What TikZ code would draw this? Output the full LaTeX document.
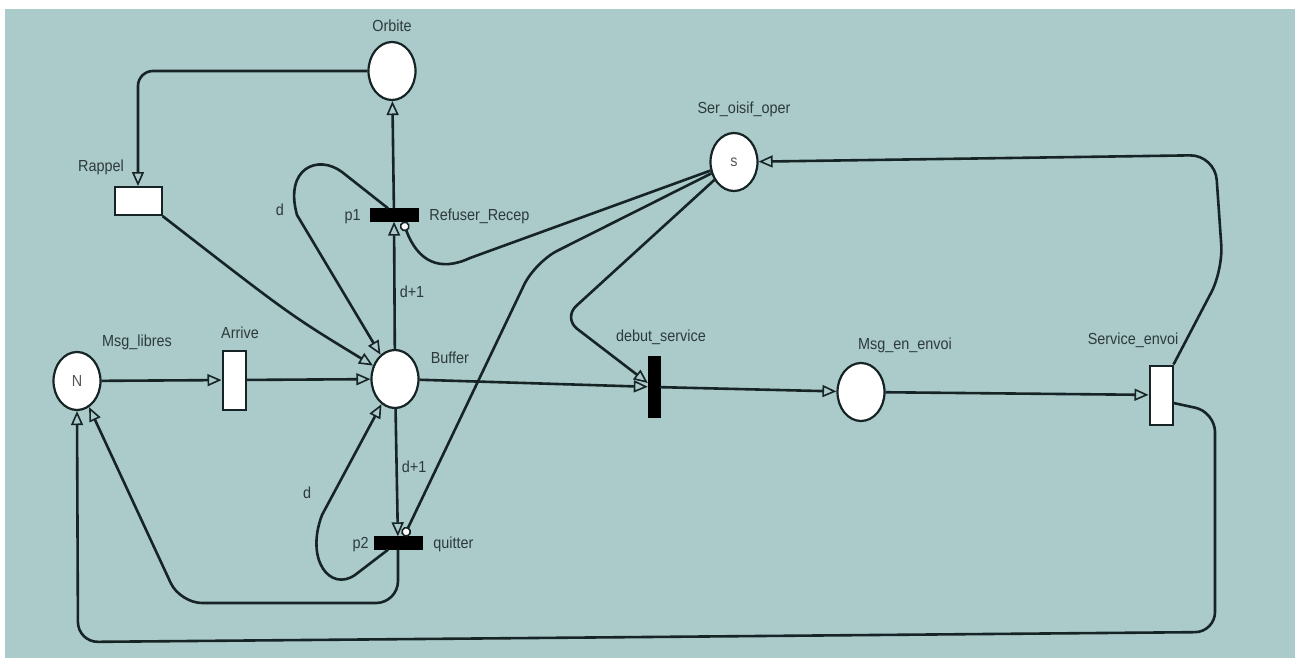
\documentclass[tikz,border=0pt]{standalone}
\usepackage{fontspec}
\setmainfont{Liberation Sans}[FakeStretch=0.9]
\usepackage{tikz}
\usetikzlibrary{shapes.geometric, arrows.meta, positioning, calc}
\definecolor{netBg}{RGB}{171, 202, 202}
\definecolor{netLine}{RGB}{22, 36, 38}
\definecolor{netText}{RGB}{45, 58, 60}
\definecolor{netMark}{RGB}{85, 85, 85}
\tikzset{
  place/.style={
    ellipse,
    draw=netLine, line width=2.2pt, fill=white,
    minimum width=47pt, minimum height=58pt,
    inner sep=0pt, font=\fontsize{16}{18}\selectfont, text=netMark
  },
  transh/.style={
    rectangle,
    draw=netLine, line width=2pt, fill=white,
    minimum width=47pt, minimum height=28pt, inner sep=0pt
  },
  transv/.style={
    rectangle,
    draw=netLine, line width=2pt, fill=white,
    minimum width=23pt, minimum height=59pt, inner sep=0pt
  },
  immh/.style={
    rectangle,
    draw=black, fill=black,
    minimum width=48pt, minimum height=13pt, inner sep=0pt
  },
  immv/.style={
    rectangle,
    draw=black, fill=black,
    minimum width=12pt, minimum height=61pt, inner sep=0pt
  },
  lbl/.style={
    font=\fontsize{16}{18}\selectfont, text=netText,
    inner sep=1pt, text height=11.5pt, text depth=0pt
  },
  arc/.style={
    line width=2.6pt, draw=netLine,
    -{Triangle[open, length=14pt, width=12pt, line width=1.6pt]}
  },
  inhib/.style={
    line width=2.6pt, draw=netLine,
    -{Circle[length=10pt, fill=white, line width=1.6pt]}
  }
}

\begin{document}
\begin{tikzpicture}[x=1pt, y=-1pt]

\useasboundingbox (0,0) rectangle (1295,658);
\fill[netBg] (5,9) rectangle (1295,658);

% --- Places ---
\node[place] (orbite) at (392,71) {};
\node[place] (msglibres) at (77,381) {N};
\node[place] (buffer) at (395,379) {};
\node[place] (seroisif) at (734,162) {s};
\node[place] (msgenvoi) at (861,392) {};

% --- Transitions ---
\node[transh] (rappel) at (138,201) {};
\node[immh] (refuser) at (394,215) {};
\node[transv] (arrive) at (234,380) {};
\node[immh] (quitter) at (398,543) {};
\node[immv] (debut) at (654,387) {};
\node[transv] (service) at (1161,395) {};

% --- Labels ---
\node[lbl, above=8pt of orbite] (orbitelbl) {Orbite};
\node[lbl, above=13pt of rappel, xshift=-37pt] (rappellbl) {Rappel};
\node[lbl, above=3pt of msglibres, xshift=60pt] (msglibreslbl) {Msg\_libres};
\node[lbl, above=10pt of arrive, xshift=6pt] (arrivelbl) {Arrive};
\node[lbl, right=10pt of buffer, yshift=21pt] (bufferlbl) {Buffer};
\node[lbl, left=8pt of refuser] (p1lbl) {p1};
\node[lbl, right=10pt of refuser] (refuserlbl) {Refuser\_Recep};
\node[lbl, left=4pt of quitter] (p2lbl) {p2};
\node[lbl, right=10pt of quitter] (quitterlbl) {quitter};
\node[lbl, above=17pt of seroisif, xshift=10pt] (seroisiflbl) {Ser\_oisif\_oper};
\node[lbl, above=14pt of debut, xshift=7pt] (debutlbl) {debut\_service};
\node[lbl, above=11pt of msgenvoi, xshift=44pt] (msgenvoilbl) {Msg\_en\_envoi};
\node[lbl, above=19pt of service, xshift=-28pt] (servicelbl) {Service\_envoi};
\node[lbl] (dtoplbl) at (280,210) {d};
\node[lbl] (dbotlbl) at (307,493) {d};

% --- Retry loop ---
\draw[arc, rounded corners=15pt] (orbite.west) -| (rappel.north);
\draw[arc] (rappel.south east) .. controls (290,315) .. (buffer);
\draw[arc] (refuser) -- (orbite);

% --- Arrival ---
\draw[arc] (msglibres) -- (arrive);
\draw[arc] (arrive) -- (buffer);

% --- Refuser_Recep ---
\draw[arc] (buffer) -- node[lbl, right=3pt, pos=0.45] (dp1lbl) {d+1} (refuser);
\draw[arc] ([xshift=-6pt]refuser.north) -- (342,172)
  .. controls (318,154) and (284,168) .. (297,215) -- (buffer);
\draw[inhib] (seroisif) -- (470,258)
  .. controls (440,272) and (418,262) .. ([xshift=9pt]refuser.south);

% --- quitter ---
\draw[arc] (buffer) -- node[lbl, right=3pt, pos=0.45] (dp2lbl) {d+1} (quitter);
\draw[arc] ([xshift=-10pt]quitter.south) -- (355,575)
  .. controls (330,592) and (305,560) .. (322,515) -- (buffer);
\draw[inhib, rounded corners=25pt] (seroisif) -- (535,262) -- ([xshift=6pt]quitter.north);
\draw[arc, rounded corners=22pt] (quitter.south) |- (180,603) -- (msglibres);

% --- Service ---
\draw[arc] (buffer) -- (debut);
\draw[arc, rounded corners=18pt] (seroisif) -- (563,318) -- ([yshift=4pt]debut.west);
\draw[arc] (debut) -- (msgenvoi);
\draw[arc] (msgenvoi) -- (service);
\draw[arc, rounded corners=25pt] (service.north east) -- (1223,270) -- (1215,155) -- (seroisif);
\draw[arc, rounded corners=20pt] ([yshift=-8pt]service.east) -- (1215,412)
  -- (1215,632) -- (78,642) -- (msglibres.south);

\end{tikzpicture}
\end{document}
